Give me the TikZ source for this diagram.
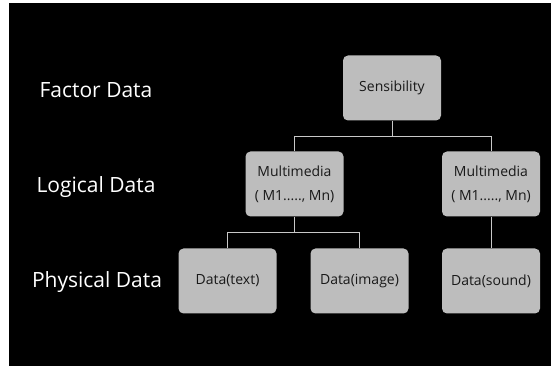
\documentclass[tikz,border=0pt]{standalone}
\usepackage{fontspec}
\setmainfont{Open Sans}
\definecolor{boxfill}{HTML}{BDBDBD}
\definecolor{linegray}{HTML}{C8C8C8}
\begin{document}
\begin{tikzpicture}[x=1pt,y=-1pt,
  databox/.style={draw=none, fill=boxfill, rounded corners=5pt, text=black!90,
    minimum width=98pt, minimum height=65pt, inner sep=0pt, align=center,
    font=\fontsize{14}{24}\selectfont},
  levellabel/.style={text=white, font=\fontsize{21}{24}\selectfont, inner sep=0pt},
  conn/.style={draw=linegray, line width=0.8pt}]
\useasboundingbox (0,0) rectangle (555,366);
\fill[white] (0,0) rectangle (555,366);
\fill[black] (9,3) rectangle (551,366);

\node[levellabel] (lf) at (96,90) {Factor Data};
\node[levellabel] (ll) at (96,187) {Logical Data};
\node[levellabel] (lp) at (97,282) {Physical Data};

\node[databox] (sens) at (392,88) {Sensibility};
\node[databox] (mm1) at (294.5,184) {Multimedia\\( M1....., Mn)};
\node[databox] (mm2) at (491,184) {Multimedia\\( M1....., Mn)};
\node[databox] (dtext) at (227.5,281) {Data(text)};
\node[databox] (dimage) at (359.5,281) {Data(image)};
\node[databox] (dsound) at (491,281) {Data(sound)};

\coordinate (b1) at (392,136);
\draw[conn] (sens.south) -- (b1) -| (mm1.north);
\draw[conn] (b1) -| (mm2.north);
\coordinate (b2) at (294.5,232.5);
\draw[conn] (mm1.south) -- (b2) -| (dtext.north);
\draw[conn] (b2) -| (dimage.north);
\draw[conn] (mm2.south) -- (dsound.north);
\end{tikzpicture}
\end{document}
